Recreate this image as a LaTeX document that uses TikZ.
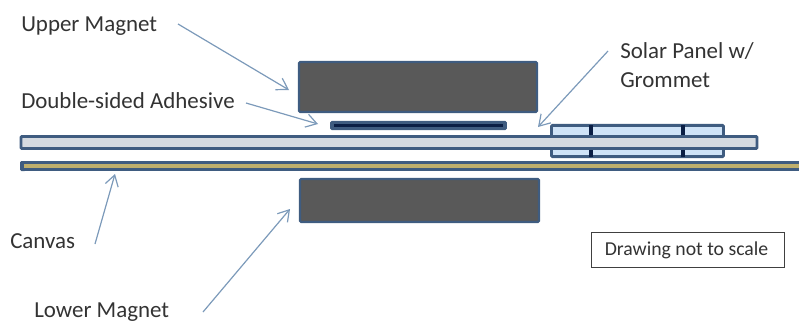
\documentclass[tikz,border=0pt]{standalone}
\usepackage{fontspec}
\setmainfont{Carlito}
\usetikzlibrary{arrows.meta}
\definecolor{edge}{HTML}{3F5C80}
\definecolor{magfill}{HTML}{595959}
\definecolor{barfill}{HTML}{D5DAE0}
\definecolor{gromfill}{HTML}{CFE3F7}
\definecolor{gold}{HTML}{BFAF6C}
\definecolor{navy}{HTML}{0B1F45}
\definecolor{arrowc}{HTML}{7C9ABA}
\tikzset{
  x=0.75pt,y=-0.75pt,
  part/.style={draw=edge,line width=2.2pt,rounded corners=0.8pt,inner sep=0pt,outer sep=0pt},
  magnet/.style={part,fill=magfill,line width=1.6pt},
  label/.style={font=\fontsize{17.2pt}{21.75pt}\selectfont,text=black!80,inner sep=0pt,anchor=base west,align=left},
  pointer/.style={draw=arrowc,line width=0.9pt,-{Straight Barb[length=8pt,width=10pt,line width=0.9pt]}},
}
\begin{document}
\begin{tikzpicture}
\useasboundingbox (0,0) rectangle (799,322);
% grommet
\node[part,fill=gromfill,minimum width=129pt,minimum height=23.4pt] (grommet) at (637.5,141) {};
\foreach \xx/\nm in {591/a,683/b}{
  \coordinate (dt\nm) at (\xx,125);
  \coordinate (db\nm) at (\xx,157);
  \draw[navy,line width=2.4pt] (dt\nm) -- (db\nm);
}
% panel bar
\node[part,fill=barfill,minimum width=552pt,minimum height=9pt] (panel) at (389,142.5) {};
% canvas
\coordinate (cl) at (23,166);
\coordinate (cr) at (799,166);
\draw[edge,line width=7.4pt,line join=round] (cl) -- (cr);
\fill[edge,rounded corners=1pt] (20,161) rectangle (26,171);
\draw[gold,line width=2.3pt] ([xshift=1pt]cl) -- (cr);
% magnets
\node[magnet,minimum width=178.5pt,minimum height=37.5pt] (upper) at (418,87) {};
\node[magnet,minimum width=179.2pt,minimum height=32.2pt] (lower) at (419.5,200.5) {};
% adhesive
\node[draw=edge,fill=edge,rounded corners=1pt,line width=0.5pt,minimum width=132pt,minimum height=6.5pt,inner sep=0pt] (adh) at (418.5,125.5) {};
\coordinate (adl) at (334,125.5);
\coordinate (adr) at (503,125.5);
\draw[navy,line width=1.6pt] (adl) -- (adr);
% labels
\node[label] (tu) at (21,31) {Upper Magnet};
\node[label] (td) at (21,108) {Double-sided Adhesive};
\node[label,anchor=west] (ts) at (620,65) {Solar Panel w/\\Grommet};
\node[label] (tc) at (10,248) {Canvas};
\node[label] (tl) at (34,317) {Lower Magnet};
\node[draw=black!75,line width=0.8pt,font=\fontsize{14.8pt}{17pt}\selectfont,text=black!80,minimum width=145pt,minimum height=26.2pt,inner sep=0pt] (note) at (688,250) {\hspace{-2.2pt}Drawing not to scale};
% pointers
\coordinate (pu1) at (178,24);
\coordinate (pu2) at (289,90);
\coordinate (pd1) at (246,103);
\coordinate (pd2) at (318,124);
\coordinate (ps1) at (608,51);
\coordinate (ps2) at (538,127);
\coordinate (pc1) at (95,244);
\coordinate (pc2) at (115,174);
\coordinate (pl1) at (203,312);
\coordinate (pl2) at (290,209);
\draw[pointer] (pu1) -- (pu2);
\draw[pointer] (pd1) -- (pd2);
\draw[pointer] (ps1) -- (ps2);
\draw[pointer] (pc1) -- (pc2);
\draw[pointer] (pl1) -- (pl2);
\end{tikzpicture}
\end{document}
